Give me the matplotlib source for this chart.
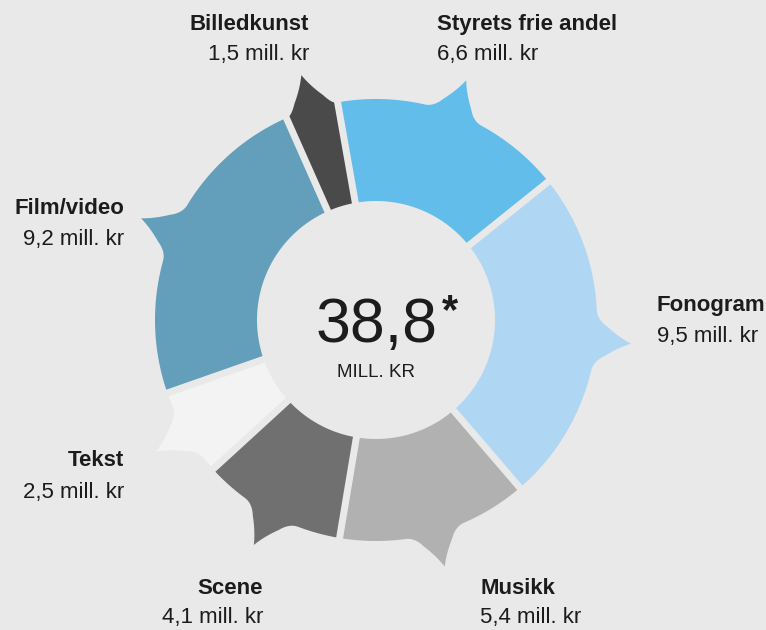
import numpy as np
import matplotlib.pyplot as plt
from matplotlib.patches import Polygon

# tildelinger per område, mill. kr (med klokka fra toppen)
omrader = ['Styrets frie andel', 'Fonogram', 'Musikk', 'Scene', 'Tekst', 'Film/video', 'Billedkunst']
belop = [6.6, 9.5, 5.4, 4.1, 2.5, 9.2, 1.5]
farger = ['#63bdea', '#afd7f3', '#b1b1b1', '#707070', '#f3f3f3', '#639fba', '#4a4a4a']

bg = '#e8e9e8'
tekstfarge = '#1c1c1c'
cx, cy = 376, 320
r_inn, r_ut, r_tupp = 119, 221, 256
start = 100.0      # grader, grensen mellom Billedkunst og Styrets frie andel
halv_base = 5.5    # halv bredde på "snakkebobla"-tuppen, grader
skulder = 2.5      # avrunding der tuppen møter ytterbuen, grader

# plassering av etikettene: x, grunnlinje navn, grunnlinje beløp, justering
etiketter = [(437, 30, 60, 'left'), (657, 311, 342, 'left'), (480, 594, 623, 'left'),
             (263, 594, 623, 'right'), (124, 466, 498, 'right'), (124, 214, 245, 'right'),
             (309, 30, 60, 'right')]


def polar(r, grader):
    a = np.radians(grader)
    return np.array([cx + r * np.cos(a), cy - r * np.sin(a)])


def bue(r, a1, a2, n=60):
    return np.array([polar(r, a) for a in np.linspace(a1, a2, n)])


def bezier(p0, p1, p2, n=20):
    t = np.linspace(0, 1, n)[:, None]
    return (1 - t) ** 2 * p0 + 2 * (1 - t) * t * p1 + t ** 2 * p2


def side(theta_a, theta_b, theta_t):
    # avrundet skulder fra buen (theta_a) via basen (theta_b), svakt innsvunget linje til tuppen
    a = polar(r_ut, theta_a)
    base = polar(r_ut, theta_b)
    tupp = polar(r_tupp, theta_t)
    b = base + 0.3 * (tupp - base)
    m = (b + tupp) / 2
    akse = polar(np.hypot(m[0] - cx, m[1] - cy), theta_t)
    c = m + 0.3 * (akse - m)
    return np.vstack([bezier(a, base, b), bezier(b, c, tupp)[1:]])


def segment(t1, t2):
    mid = (t1 + t2) / 2
    a1 = min(mid + halv_base + skulder, t1 - 0.3)
    a2 = max(mid - halv_base - skulder, t2 + 0.3)
    deler = [bue(r_ut, t1, a1),
             side(a1, mid + halv_base, mid),
             side(a2, mid - halv_base, mid)[::-1],
             bue(r_ut, a2, t2),
             bue(r_inn, t2, t1)]
    return np.vstack(deler)


fig = plt.figure(figsize=(7.66, 6.30), dpi=100, facecolor=bg)
ax = fig.add_axes([0, 0, 1, 1])
ax.set_xlim(0, 766)
ax.set_ylim(630, 0)
ax.axis('off')
ax.set_facecolor(bg)

total = sum(belop)
vinkler = start - np.concatenate([[0], np.cumsum(belop)]) / total * 360

for i in range(len(belop)):
    pts = segment(vinkler[i], vinkler[i + 1])
    ax.add_patch(Polygon(pts, closed=True, facecolor=farger[i], edgecolor='none'))

# mellomrom mellom segmentene
for v in vinkler[:-1]:
    p0 = polar(r_inn - 6, v)
    p1 = polar(r_tupp, v)
    ax.plot([p0[0], p1[0]], [p0[1], p1[1]], color=bg, lw=5, solid_capstyle='butt')

font = 'Liberation Sans'
for navn, verdi, (x, y1, y2, ha) in zip(omrader, belop, etiketter):
    ax.text(x, y1, navn, ha=ha, va='baseline', fontsize=16, fontweight='bold',
            family=font, color=tekstfarge)
    ax.text(x, y2, f'{verdi:.1f}'.replace('.', ',') + ' mill. kr', ha=ha, va='baseline',
            fontsize=16, family=font, color=tekstfarge)

ax.text(377, 342, f'{total:.1f}'.replace('.', ','), ha='center', va='baseline',
        fontsize=45, family=font, color=tekstfarge)
ax.text(442, 323, '*', ha='left', va='baseline', fontsize=30, fontweight='bold',
        family=font, color=tekstfarge)
ax.text(376, 377, 'MILL. KR', ha='center', va='baseline', fontsize=13.5,
        family=font, color=tekstfarge)

fig.savefig('out.png', dpi=100, facecolor=bg)
